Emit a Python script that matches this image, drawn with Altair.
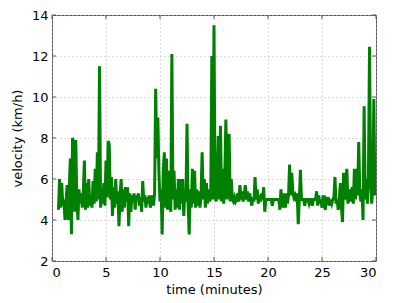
import altair as alt
import pandas as pd

# sampling: start time (min) and step (min)
t_start = 0.6
t_step = 0.1

velocity = [
    # 0.6 - 0.9
    4.5, 6.0, 4.6, 5.8,
    # 1.0 - 1.9
    4.7, 5.0, 4.0, 4.9, 5.7, 4.0, 5.6, 7.0, 3.3, 8.0,
    # 2
    7.8, 4.4, 7.9, 5.0, 4.0, 5.5, 4.8, 5.3, 4.6, 5.4,
    # 3
    6.9, 4.5, 5.8, 4.6, 6.0, 4.7, 5.1, 4.6, 5.9, 4.8,
    # 4
    6.5, 4.9, 7.3, 5.0, 11.5, 4.6, 5.5, 4.8, 5.8, 4.7,
    # 5
    6.9, 5.1, 7.85, 7.7, 5.0, 6.1, 4.2, 5.6, 4.6, 6.0,
    # 6
    4.8, 5.4, 3.7, 5.2, 6.0, 4.4, 5.5, 4.6, 5.6, 4.9,
    # 7
    5.6, 3.7, 5.3, 4.4, 5.2, 4.9, 5.3, 4.5, 5.2, 5.0,
    # 8
    5.3, 4.7, 5.1, 4.4, 5.9, 4.9, 5.2, 4.6, 5.1, 4.8,
    # 9
    5.2, 4.6, 5.0, 5.2, 4.7, 5.3, 10.4, 7.0, 9.0, 6.3,
    # 10
    4.9, 5.5, 3.3, 6.4, 7.3, 4.6, 7.0, 4.5, 6.4, 5.0,
    # 11
    4.4, 12.1, 5.0, 6.4, 4.5, 5.5, 4.6, 6.0, 4.5, 6.0,
    # 12
    4.8, 6.0, 4.2, 5.4, 4.9, 8.7, 4.8, 3.3, 5.5, 4.6,
    # 13
    6.5, 4.8, 6.4, 4.6, 5.5, 4.7, 5.4, 4.6, 5.2, 7.3,
    # 14
    5.0, 6.0, 4.6, 5.8, 4.8, 5.5, 4.9, 5.2, 12.0, 5.0,
    # 15
    13.5, 5.2, 4.9, 6.0, 8.1, 5.0, 8.6, 4.9, 6.5, 4.8,
    # 16
    6.2, 8.9, 5.0, 6.5, 8.2, 4.9, 6.0, 5.0, 4.9, 5.1,
    # 17
    4.9, 5.0, 5.3, 4.9, 5.7, 5.0, 5.4, 4.9, 5.2, 5.7,
    # 18
    5.0, 5.4, 4.9, 5.3, 5.0, 4.7, 5.1, 4.9, 6.1, 5.0,
    # 19
    5.5, 4.8, 5.2, 4.9, 5.3, 5.0, 5.6, 4.4, 5.0, 5.0,
    # 20
    5.0, 5.0, 5.0, 5.0, 4.7, 5.0, 5.0, 5.0, 5.0, 5.0,
    # 21
    5.0, 4.5, 5.5, 4.6, 5.3, 4.9, 4.6, 5.3, 4.8, 5.2,
    # 22
    6.7, 5.2, 6.3, 5.4, 5.1, 5.2, 4.9, 5.3, 3.8, 5.0,
    # 23
    6.45, 5.0, 5.0, 5.0, 4.7, 5.0, 5.0, 5.0, 4.8, 5.0,
    # 24
    5.0, 4.7, 5.0, 5.0, 5.0, 5.4, 4.7, 5.2, 4.8, 5.0,
    # 25
    4.6, 5.2, 5.0, 4.5, 5.0, 4.9, 5.1, 4.7, 5.0, 4.8,
    # 26
    5.0, 5.1, 6.1, 4.8, 5.0, 4.5, 5.0, 5.8, 4.6, 3.9,
    # 27
    6.3, 5.0, 5.5, 6.5, 4.8, 5.5, 4.9, 5.3, 5.6, 4.8,
    # 28
    6.5, 5.0, 6.5, 5.2, 7.8, 5.3, 4.9, 5.5, 4.0, 9.55,
    # 29
    5.0, 6.0, 4.8, 6.2, 12.45, 6.0, 4.8, 5.5, 9.9, 5.2,
    # 30
    5.8,
]

x_ticks = [0, 5, 10, 15, 20, 25, 30]
y_ticks = [2, 4, 6, 8, 10, 12, 14]

times = [round(t_start + i * t_step, 2) for i in range(len(velocity))]
df = pd.DataFrame({"time": times, "velocity": velocity})
xt = pd.DataFrame({"xt": x_ticks})
yt = pd.DataFrame({"yt": y_ticks})

W, H = 324, 246
FONT = "DejaVu Sans"

x_scale = alt.Scale(domain=[0, 30], nice=False, zero=False)
y_scale = alt.Scale(domain=[2, 14], nice=False, zero=False)

line = alt.Chart(df).mark_line(color="#008000", strokeWidth=3, strokeJoin="miter", clip=True).encode(
    x=alt.X("time:Q", scale=x_scale,
            axis=alt.Axis(values=x_ticks, title="time (minutes)", format="d",
                          grid=True, gridDash=[1, 3], gridColor="#bbbbbb",
                          ticks=False, domain=False, labelPadding=5,
                          titlePadding=4)),
    y=alt.Y("velocity:Q", scale=y_scale,
            axis=alt.Axis(values=y_ticks, title="velocity (km/h)", format="d",
                          grid=True, gridDash=[1, 3], gridColor="#bbbbbb",
                          ticks=False, domain=False, labelPadding=4,
                          titlePadding=7)),
)

tick_color = "#555555"
xb = alt.Chart(xt).mark_rule(color=tick_color, strokeWidth=1).encode(
    x=alt.X("xt:Q", scale=x_scale), y=alt.value(H), y2=alt.value(H - 4))
xtop = alt.Chart(xt).mark_rule(color=tick_color, strokeWidth=1).encode(
    x=alt.X("xt:Q", scale=x_scale), y=alt.value(0), y2=alt.value(4))
yl = alt.Chart(yt).mark_rule(color=tick_color, strokeWidth=1).encode(
    y=alt.Y("yt:Q", scale=y_scale), x=alt.value(0), x2=alt.value(4))
yr = alt.Chart(yt).mark_rule(color=tick_color, strokeWidth=1).encode(
    y=alt.Y("yt:Q", scale=y_scale), x=alt.value(W), x2=alt.value(W - 4))

chart = alt.layer(line, xb, xtop, yl, yr).properties(
    width=W, height=H,
    autosize=alt.AutoSizeParams(type="none"),
    padding={"left": 52, "top": 15, "right": 29, "bottom": 42},
).configure_view(
    stroke="#555555", strokeWidth=1
).configure_axis(
    labelFont=FONT, titleFont=FONT, labelFontSize=13, titleFontSize=13,
    labelColor="#000000", titleColor="#000000", titleFontWeight="normal",
)

chart.save("out.html", embed_options={"renderer": "svg", "actions": False})
